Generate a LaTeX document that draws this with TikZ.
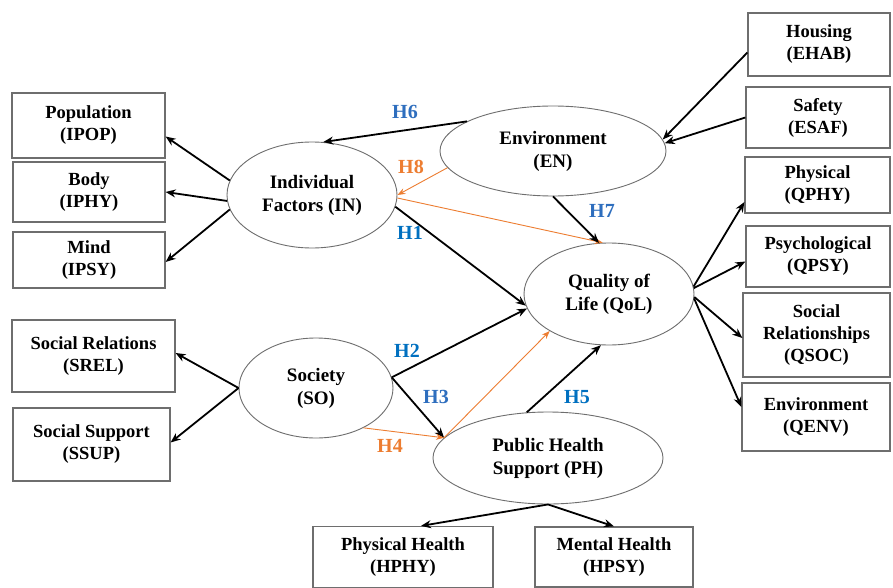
\documentclass[tikz,border=0pt]{standalone}
\usepackage{fontspec}
\setmainfont{Liberation Serif}
\usetikzlibrary{shapes.geometric,arrows.meta}
\definecolor{hblue}{RGB}{46,110,190}
\definecolor{hcyan}{RGB}{0,112,192}
\definecolor{horange}{RGB}{237,125,49}
\definecolor{edgegray}{RGB}{110,110,110}
\tikzset{
  box/.style={draw=edgegray, line width=1.2pt, rectangle, align=center, inner sep=0pt,
    font=\fontsize{18.5}{22}\selectfont\bfseries},
  lat/.style={draw=edgegray, line width=0.9pt, ellipse, align=center, inner sep=0pt,
    font=\fontsize{19}{23}\selectfont\bfseries},
  blk/.style={draw=black, line width=1.8pt, -{Stealth[length=10pt,width=8pt]}},
  org/.style={draw=horange, line width=0.9pt, -{Stealth[length=8pt,width=6pt]}},
  hlab/.style={font=\fontsize{20}{22}\selectfont\bfseries, inner sep=0pt},
}
\begin{document}
\begin{tikzpicture}[x=1pt,y=-1pt]
\useasboundingbox[fill=white] (0,0) rectangle (893,588);
% boxes left
\node[box, minimum width=153pt, minimum height=65pt] (IPOP) at (88.5,125.5) {Population\\(IPOP)};
\node[box, minimum width=152pt, minimum height=60pt] (IPHY) at (89,192) {Body\\(IPHY)};
\node[box, minimum width=152pt, minimum height=56pt] (IPSY) at (89,260) {Mind\\(IPSY)};
\node[box, minimum width=163pt, minimum height=72pt] (SREL) at (93.5,356) {Social Relations\\(SREL)};
\node[box, minimum width=157pt, minimum height=73pt] (SSUP) at (91.5,444.5) {Social Support\\(SSUP)};
% boxes right
\node[box, minimum width=142pt, minimum height=63pt] (EHAB) at (819,44.5) {Housing\\(EHAB)};
\node[box, minimum width=144pt, minimum height=61pt] (ESAF) at (818,117.5) {Safety\\(ESAF)};
\node[box, minimum width=145pt, minimum height=56pt] (QPHY) at (817.5,185) {Physical\\(QPHY)};
\node[box, minimum width=144pt, minimum height=61pt] (QPSY) at (818,256.5) {Psychological\\(QPSY)};
\node[box, minimum width=147pt, minimum height=84pt] (QSOC) at (816.5,335) {Social\\Relationships\\(QSOC)};
\node[box, minimum width=148pt, minimum height=68pt] (QENV) at (816,417) {Environment\\(QENV)};
% boxes bottom
\node[box, minimum width=180pt, minimum height=61pt] (HPHY) at (403,557) {Physical Health\\(HPHY)};
\node[box, minimum width=158pt, minimum height=60pt] (HPSY) at (614,557) {Mental Health\\(HPSY)};
% latent ellipses
\node[lat, minimum width=170pt, minimum height=106pt] (IN) at (312,195) {Individual\\Factors (IN)};
\node[lat, minimum width=226pt, minimum height=90pt] (EN) at (553,151) {Environment\\(EN)};
\node[lat, minimum width=170pt, minimum height=102pt] (QoL) at (609,294) {Quality of\\Life (QoL)};
\node[lat, minimum width=154pt, minimum height=100pt] (SO) at (316,388) {Society\\(SO)};
\node[lat, minimum width=230pt, minimum height=92pt] (PH) at (548,458) {Public Health\\Support (PH)};
% measurement arrows
\draw[blk] (IN.170) -- ([yshift=-11pt]IPOP.east);
\draw[blk] (IN.184) -- (IPHY.east);
\draw[blk] (IN.190) -- ([yshift=-2pt]IPSY.east);
\draw[blk] ([yshift=-8pt]EHAB.west) -- (EN.6);
\draw[blk] (ESAF.west) -- (EN.4);
\draw[blk] (QoL.5) -- ([yshift=-17pt]QPHY.west);
\draw[blk] (QoL.4) -- ([yshift=-5pt]QPSY.west);
\draw[blk] (QoL.-2) -- ([yshift=-3pt]QSOC.west);
\draw[blk] (QoL.-3) -- ([yshift=10pt]QENV.west);
\draw[blk] (SO.west) -- ([yshift=3pt]SREL.east);
\draw[blk] (SO.west) -- ([yshift=2pt]SSUP.east);
\draw[blk] (PH.south) -- ([xshift=18pt]HPHY.north);
\draw[blk] (PH.south) -- (HPSY.north);
% structural arrows
\draw[blk] (EN.161) -- (IN.78);
\draw[org] (EN.189) -- (IN.east);
\draw[blk] (IN.-8) -- (QoL.188);
\draw[org] (IN.-2) -- (QoL.97);
\draw[blk] (EN.south) -- (QoL.101);
\draw[blk] (SO.8) -- (QoL.190);
\draw[blk] (SO.8) -- (PH.169);
\draw[org] (SO.-40) -- (PH.169);
\draw[org] (PH.169) -- (QoL.212);
\draw[blk] (PH.115) -- (QoL.261);
% hypothesis labels
\node[hlab, text=hblue] (H6) at (405,112) {H6};
\node[hlab, text=horange] (H8) at (411,167) {H8};
\node[hlab, text=hcyan] (H1) at (410,233) {H1};
\node[hlab, text=hblue] (H7) at (602,211) {H7};
\node[hlab, text=hcyan] (H2) at (407,351) {H2};
\node[hlab, text=hblue] (H3) at (436,397) {H3};
\node[hlab, text=horange] (H4) at (390,446) {H4};
\node[hlab, text=hcyan] (H5) at (577,397) {H5};
\end{tikzpicture}
\end{document}
